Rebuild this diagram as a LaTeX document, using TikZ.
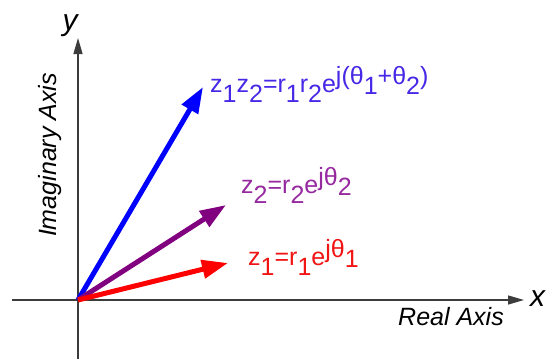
\documentclass[tikz,border=0pt]{standalone}
\usepackage{fontspec}
\setmainfont{Liberation Sans}
\usetikzlibrary{arrows.meta}
\definecolor{vblue}{RGB}{0,0,255}
\definecolor{tblue}{RGB}{70,40,230}
\definecolor{vpurple}{RGB}{128,0,128}
\definecolor{tpurple}{RGB}{150,40,160}
\definecolor{vred}{RGB}{255,0,0}
\definecolor{tred}{RGB}{240,20,20}
\definecolor{axisgray}{RGB}{60,60,60}
\newcommand\lo[1]{\raisebox{-0.4em}{#1}}
\newcommand\hi[1]{\raisebox{0.3em}{#1}}
\begin{document}
\begin{tikzpicture}[x=1pt,y=-1pt,
  axisline/.style={draw=axisgray,line width=1.3pt,-{Triangle[length=16pt,width=9pt]}},
  vec/.style={line width=5pt,-{Triangle[length=26pt,width=18pt]}},
  lbl/.style={anchor=base west,inner sep=0pt,font=\fontsize{25}{30}\selectfont},
  axlbl/.style={inner sep=0pt,font=\fontsize{25}{30}\selectfont\itshape},
  varlbl/.style={inner sep=0pt,font=\fontsize{30}{36}\selectfont\itshape}]
\useasboundingbox (0,0) rectangle (548,359);
\coordinate (O) at (78,300);
\coordinate (xs) at (12,300);
\coordinate (xe) at (524,300);
\coordinate (ys) at (78,359);
\coordinate (ye) at (78,38);
\coordinate (t12) at (203,87);
\coordinate (t2) at (226,205);
\coordinate (t1) at (228,263);
\draw[axisline] (xs) -- (xe);
\draw[axisline] (ys) -- (ye);
\draw[vec,vblue] (O) -- (t12);
\draw[vec,vpurple] (O) -- (t2);
\draw[vec,vred] (O) -- (t1);
\node[lbl,text=tblue] (l12) at (210,92) {z\lo{1}z\lo{2}=r\lo{1}r\lo{2}e\hi{j(θ\lo{1}+θ\lo{2})}};
\node[lbl,text=tpurple] (l2) at (241,193) {z\lo{2}=r\lo{2}e\hi{jθ\lo{2}}};
\node[lbl,text=tred] (l1) at (248,265) {z\lo{1}=r\lo{1}e\hi{jθ\lo{1}}};
\node[axlbl,anchor=base west] (real) at (398,325) {Real Axis};
\node[axlbl,rotate=90,anchor=base] (imag) at (56,155) {Imaginary Axis};
\node[varlbl,anchor=base] (ylbl) at (70,30) {y};
\node[varlbl,anchor=base west] (xlbl) at (530,306) {x};
\end{tikzpicture}
\end{document}
